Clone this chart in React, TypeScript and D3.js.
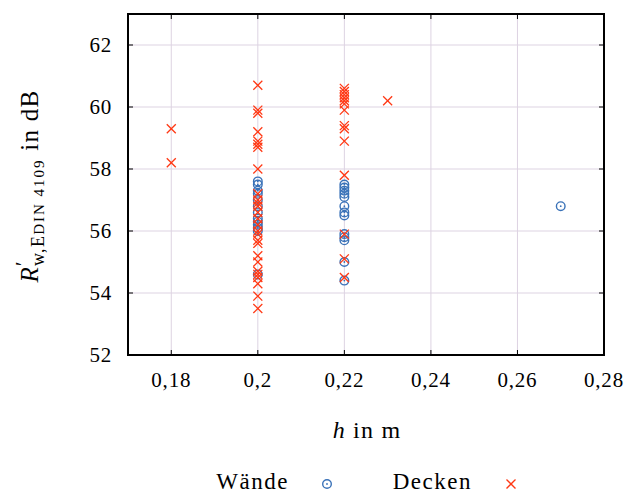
import React from "react";
import * as d3 from "d3";

const xTicks = [0.18, 0.2, 0.22, 0.24, 0.26, 0.28];
const xTickLabels = ["0,18", "0,2", "0,22", "0,24", "0,26", "0,28"];
const yTicks = [52, 54, 56, 58, 60, 62];

const waendeH = [
  0.2, 0.2, 0.2, 0.2, 0.2, 0.2, 0.2, 0.2, 0.2, 0.2, 0.2, 0.2, 0.2,
  0.22, 0.22, 0.22, 0.22, 0.22, 0.22, 0.22, 0.22, 0.22, 0.22, 0.22, 0.22, 0.22,
  0.27,
];
const waendeR = [
  57.6, 57.5, 57.3, 57.2, 57.0, 56.8, 56.6, 56.4, 56.3, 56.2, 56.1, 56.0, 54.6,
  57.5, 57.4, 57.3, 57.2, 57.1, 56.8, 56.6, 56.5, 55.9, 55.8, 55.7, 55.0, 54.4,
  56.8,
];

const deckenH = [
  0.18, 0.18,
  0.2, 0.2, 0.2, 0.2, 0.2, 0.2, 0.2, 0.2, 0.2, 0.2, 0.2, 0.2, 0.2, 0.2, 0.2, 0.2, 0.2, 0.2, 0.2, 0.2, 0.2, 0.2, 0.2, 0.2, 0.2, 0.2, 0.2,
  0.22, 0.22, 0.22, 0.22, 0.22, 0.22, 0.22, 0.22, 0.22, 0.22, 0.22, 0.22, 0.22, 0.22,
  0.23,
];
const deckenR = [
  59.3, 58.2,
  60.7, 59.9, 59.8, 59.2, 58.9, 58.8, 58.7, 58.0, 57.0, 56.8, 56.6, 56.2, 56.0, 55.9, 55.7, 55.6, 55.2, 55.0, 54.7, 54.6, 54.5, 54.3, 53.9, 53.5, 56.9, 56.4, 57.2,
  60.6, 60.5, 60.4, 60.3, 60.2, 60.1, 59.9, 59.4, 59.3, 58.9, 57.8, 55.9, 55.1, 54.5,
  60.2,
];

const W = 642;
const H = 494;
const M = { left: 128, right: 604, top: 14, bottom: 355 };
const FONT = "'Liberation Serif', 'DejaVu Serif', serif";
const BLUE = "#3a72b8";
const RED = "#ff3814";
const GRID = "#ddd3e2";

export default function App() {
  const x = d3.scaleLinear().domain([0.17, 0.28]).range([M.left, M.right]);
  const y = d3.scaleLinear().domain([52, 63]).range([M.bottom, M.top]);

  const cross = (cx: number, cy: number, key: string, s = 4.5) => (
    <g key={key} stroke={RED} strokeWidth={1.3}>
      <line x1={cx - s} y1={cy - s} x2={cx + s} y2={cy + s} />
      <line x1={cx - s} y1={cy + s} x2={cx + s} y2={cy - s} />
    </g>
  );
  const circ = (cx: number, cy: number, key: string) => (
    <g key={key}>
      <circle cx={cx} cy={cy} r={4.3} fill="none" stroke={BLUE} strokeWidth={1.4} />
      <circle cx={cx} cy={cy} r={0.9} fill={BLUE} />
    </g>
  );

  return (
    <svg width={W} height={H} style={{ position: "absolute", left: 0, top: 0 }}>
      <rect width={W} height={H} fill="#fff" />
      {xTicks.map((t) => (
        <line key={"gx" + t} x1={x(t)} x2={x(t)} y1={M.top} y2={M.bottom} stroke={GRID} strokeWidth={1} />
      ))}
      {yTicks.map((t) => (
        <line key={"gy" + t} x1={M.left} x2={M.right} y1={y(t)} y2={y(t)} stroke={GRID} strokeWidth={1} />
      ))}
      {waendeH.map((h, i) => circ(x(h), y(waendeR[i]), "w" + i))}
      {deckenH.map((h, i) => cross(x(h), y(deckenR[i]), "d" + i))}
      <rect x={M.left} y={M.top} width={M.right - M.left} height={M.bottom - M.top} fill="none" stroke="#000" strokeWidth={2} />
      {xTicks.map((t) => (
        <g key={"tx" + t}>
          <line x1={x(t)} x2={x(t)} y1={M.bottom} y2={M.bottom - 5} stroke="#000" strokeWidth={1} />
          <line x1={x(t)} x2={x(t)} y1={M.top} y2={M.top + 5} stroke="#000" strokeWidth={1} />
        </g>
      ))}
      {yTicks.map((t) => (
        <g key={"ty" + t}>
          <line x1={M.left} x2={M.left + 5} y1={y(t)} y2={y(t)} stroke="#000" strokeWidth={1} />
          <line x1={M.right} x2={M.right - 5} y1={y(t)} y2={y(t)} stroke="#000" strokeWidth={1} />
        </g>
      ))}
      {xTicks.map((t, i) => (
        <text key={"lx" + t} x={x(t)} y={M.bottom + 32} textAnchor="middle" fontFamily={FONT} fontSize={21} letterSpacing={0.8}>
          {xTickLabels[i]}
        </text>
      ))}
      {yTicks.map((t) => (
        <text key={"ly" + t} x={M.left - 16} y={y(t) + 7} textAnchor="end" fontFamily={FONT} fontSize={21} letterSpacing={0.8}>
          {t}
        </text>
      ))}
      <text x={367} y={438} textAnchor="middle" fontFamily={FONT} fontSize={24} letterSpacing={1.2}>
        <tspan fontStyle="italic">h</tspan> in m
      </text>
      <text transform="translate(38,186) rotate(-90)" textAnchor="middle" fontFamily={FONT} fontSize={25} letterSpacing={1.3}>
        <tspan fontStyle="italic">R</tspan>
        <tspan dy={-8} fontSize={21}>′</tspan>
        <tspan dy={14} dx={-6} fontSize={18}>w,E</tspan>
        <tspan fontSize={15} letterSpacing={2}>DIN 4109</tspan>
        <tspan dy={-6}> in dB</tspan>
      </text>
      <text x={289} y={489} textAnchor="end" fontFamily={FONT} fontSize={23} letterSpacing={1.5}>Wände</text>
      {circ(327, 484, "lw")}
      <text x={472} y={489} textAnchor="end" fontFamily={FONT} fontSize={23} letterSpacing={1.5}>Decken</text>
      {cross(511, 484, "ld", 4.5)}
    </svg>
  );
}
